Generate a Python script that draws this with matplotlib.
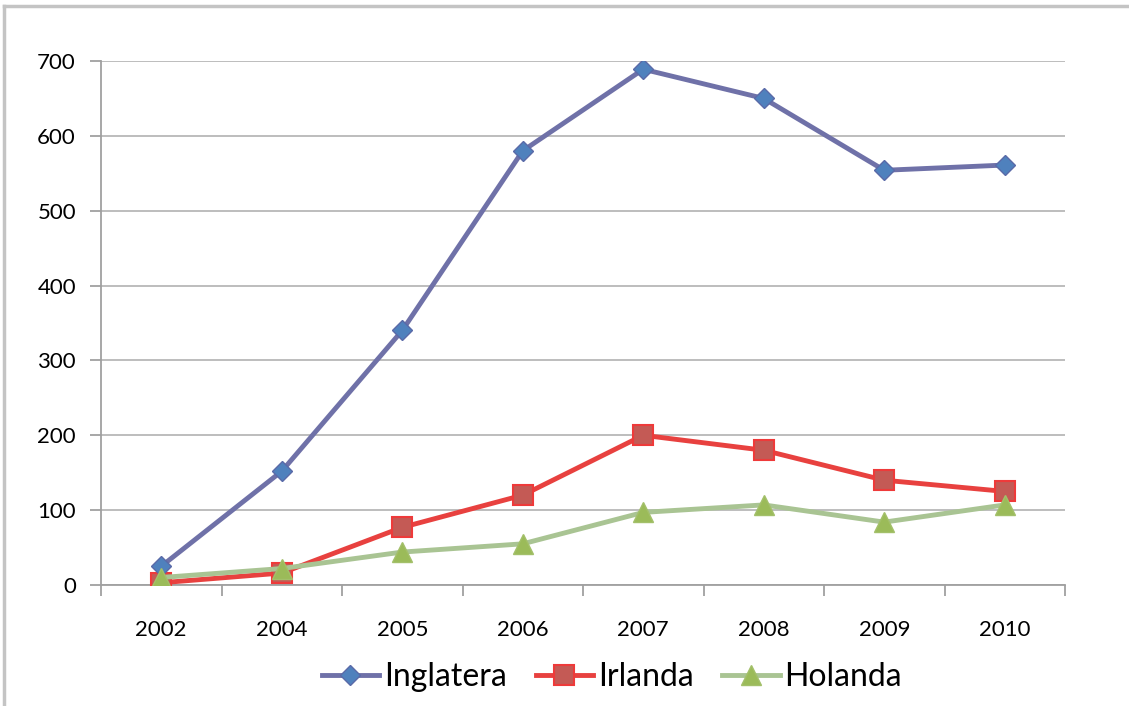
import matplotlib.pyplot as plt
from matplotlib.lines import Line2D

plt.rcParams['font.family'] = ['Lato', 'DejaVu Sans']

# datos
anos = ['2002', '2004', '2005', '2006', '2007', '2008', '2009', '2010']
inglatera = [25, 152, 340, 580, 689, 650, 554, 561]
irlanda = [3, 16, 77, 120, 200, 180, 140, 125]
holanda = [10, 22, 44, 55, 97, 107, 84, 107]

fig = plt.figure(figsize=(11.29, 7.06), dpi=100)
ax = fig.add_axes([101/1129, 1-585/706, 964/1129, 524/706])

x = range(len(anos))
ax.plot(x, inglatera, color='#6f71a8', lw=3.5, marker='D', ms=10,
        mfc='#4f81bd', mec='#5a6aa8', mew=1, label='Inglatera', zorder=5)
ax.plot(x, irlanda, color='#e8413f', lw=3.5, marker='s', ms=15,
        mfc='#c45a55', mec='#ee3a3a', mew=1.5, label='Irlanda', zorder=4)
ax.plot(x, holanda, color='#a9c493', lw=3.5, marker='^', ms=14,
        mfc='#9bbb59', mec='#a3c06a', mew=1, label='Holanda', zorder=6)

ax.set_xlim(-0.5, len(anos) - 0.5)
ax.set_ylim(0, 700)
ax.set_yticks(range(0, 701, 100))
ax.grid(axis='y', color='#b8b8b8', lw=1.3)
ax.set_axisbelow(True)

ax.set_xticks([i - 0.5 for i in range(len(anos) + 1)])
ax.set_xticklabels([])
ax.set_xticks(list(x), minor=True)
ax.set_xticklabels(anos, minor=True)
ax.tick_params(axis='x', which='major', length=8, color='#a0a0a0', width=1.3)
ax.tick_params(axis='x', which='minor', length=0, pad=25, labelsize=16)
ax.tick_params(axis='y', length=8, color='#a0a0a0', width=1.3, labelsize=16, pad=10)

for s in ['top', 'right']:
    ax.spines[s].set_visible(False)
for s in ['left', 'bottom']:
    ax.spines[s].set_color('#a0a0a0')
    ax.spines[s].set_linewidth(1.3)

ax.legend(loc='center', bbox_to_anchor=(0.53, -(677-585)/524), ncol=3, frameon=False,
          fontsize=23, handlelength=1.8, columnspacing=0.9, handletextpad=0.15,
          borderaxespad=0)

# marco del grafico
fig.add_artist(Line2D([4/1129, 4/1129], [0, 1-6/706], color='#c4c4c4', lw=2.5))
fig.add_artist(Line2D([4/1129, 1], [1-6/706, 1-6/706], color='#c4c4c4', lw=2.5))

fig.savefig('out.png', dpi=100)
